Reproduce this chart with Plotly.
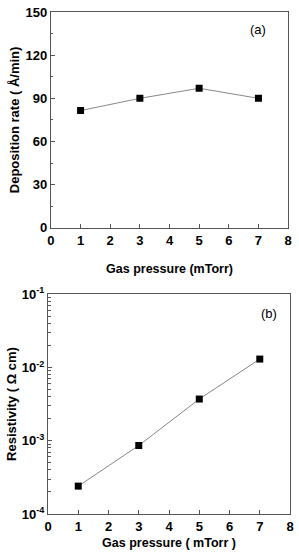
import plotly.graph_objects as go
from plotly.subplots import make_subplots

pressure = [1, 3, 5, 7]
dep_rate = [81.5, 90, 97, 90]
resistivity = [2.4e-4, 8.6e-4, 3.7e-3, 1.3e-2]

x_ticks = [0, 1, 2, 3, 4, 5, 6, 7, 8]
y1_ticks = [0, 30, 60, 90, 120, 150]
y2_tickvals = [1e-4, 1e-3, 1e-2, 1e-1]
y2_ticktext = ["10<sup>-4</sup>", "10<sup>-3</sup>", "10<sup>-2</sup>", "10<sup>-1</sup>"]
y2_minor = [m * d for d in (1e-4, 1e-3, 1e-2) for m in range(2, 10)]

FONT = "Liberation Sans"
AX = "#555555"

fig = make_subplots(rows=2, cols=1)

fig.add_trace(go.Scatter(x=pressure, y=dep_rate, mode="lines+markers",
                         line=dict(color="#888888", width=1),
                         marker=dict(symbol="square", size=7, color="black"),
                         showlegend=False), row=1, col=1)
fig.add_trace(go.Scatter(x=pressure, y=resistivity, mode="lines+markers",
                         line=dict(color="#888888", width=1),
                         marker=dict(symbol="square", size=7, color="black"),
                         showlegend=False), row=2, col=1)

common_x = dict(range=[0, 8], tickvals=x_ticks, ticks="inside", ticklen=4,
                tickcolor=AX, showline=True, linecolor=AX, linewidth=1.2, mirror=True,
                showgrid=False, zeroline=False,
                tickfont=dict(family=FONT, size=13, color="black", weight="bold"))

fig.update_xaxes(**common_x, domain=[0.012, 0.984], row=1, col=1,
                 title=dict(text="<b>Gas pressure (mTorr)</b>", standoff=17,
                            font=dict(family=FONT, size=12.5, color="black")))
fig.update_xaxes(**common_x, domain=[0.0, 0.992], row=2, col=1,
                 title=dict(text="<b>Gas pressure ( mTorr )</b>", standoff=5,
                            font=dict(family=FONT, size=12.5, color="black")))

fig.update_yaxes(range=[0, 150], tickvals=y1_ticks, ticks="inside", ticklen=4,
                 tickcolor=AX, showline=True, linecolor=AX, linewidth=1.2, mirror=True,
                 minor=dict(ticks="inside", ticklen=2, tickcolor=AX, dtick=15, tick0=0),
                 showgrid=False, zeroline=False, domain=[0.570, 1.0],
                 tickfont=dict(family=FONT, size=13, color="black", weight="bold"),
                 title=dict(text="<b>Deposition rate ( Å/min)</b>", standoff=2,
                            font=dict(family=FONT, size=13, color="black")),
                 row=1, col=1)
fig.update_yaxes(type="log", range=[-4, -1], tickvals=y2_tickvals, ticktext=y2_ticktext,
                 ticks="inside", ticklen=4, tickcolor=AX, showline=True, linecolor=AX,
                 linewidth=1.2, mirror=True,
                 minor=dict(tickmode="array", tickvals=y2_minor, ticks="inside",
                            ticklen=2.5, tickcolor=AX, tickwidth=1, showgrid=False),
                 showgrid=False, zeroline=False, domain=[0.0, 0.438],
                 tickfont=dict(family=FONT, size=13, color="black", weight="bold"),
                 title=dict(text="<b>Resistivity ( Ω cm)</b>", standoff=2,
                            font=dict(family=FONT, size=13, color="black")),
                 row=2, col=1)

fig.add_annotation(text="(a)", xref="x domain", yref="y domain", x=0.875, y=0.92,
                   xanchor="center", yanchor="middle",
                   showarrow=False, font=dict(family=FONT, size=13, color="black"))
fig.add_annotation(text="(b)", xref="x2 domain", yref="y2 domain", x=0.915, y=0.91,
                   xanchor="center", yanchor="middle",
                   showarrow=False, font=dict(family=FONT, size=13, color="black"))

fig.update_layout(width=299, height=556, margin=dict(l=48, r=3, t=12, b=42),
                  plot_bgcolor="white", paper_bgcolor="white")

fig.write_html("out.html")
